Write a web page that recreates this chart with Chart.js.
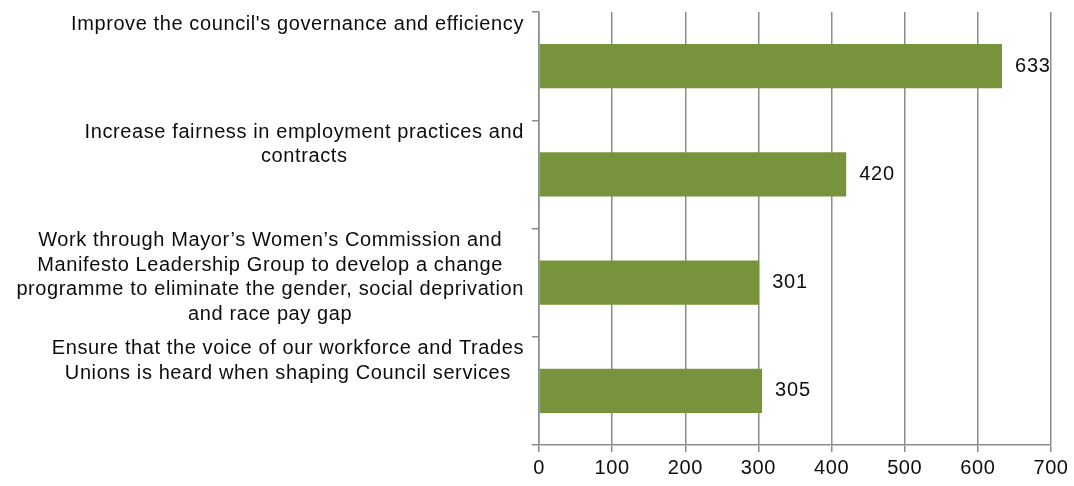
<!DOCTYPE html>
<html>
<head>
<meta charset="utf-8">
<script src="https://cdn.jsdelivr.net/npm/chart.js@4/dist/chart.umd.min.js"></script>
<style>
  html, body { margin: 0; padding: 0; background: #fff; }
  #mycanvas { display: block; }
</style>
</head>
<body>
<canvas id="mycanvas" width="1074" height="486"></canvas>
<script>
var categories = [
  ["Improve the council's governance and efficiency"],
  ["Increase fairness in employment practices and", "contracts"],
  ["Work through Mayor\u2019s Women\u2019s Commission and", "Manifesto Leadership Group to develop a change", "programme to eliminate the gender, social deprivation", "and race pay gap"],
  ["Ensure that the voice of our workforce and Trades", "Unions is heard when shaping Council services"]
];
var responses = [633, 420, 301, 305];
var xTicks = [0, 100, 200, 300, 400, 500, 600, 700];

var FONT = "'Liberation Sans', Arial, sans-serif";
var gridGrey = '#8c8c8c';

// slightly wider text spacing for everything drawn on the canvas
var spacing = {
  id: 'spacing',
  beforeDraw: function(chart) {
    chart.ctx.letterSpacing = '0.6px';
  }
};

// category text sits at the top of each band, right aligned to the axis
var categoryText = {
  id: 'categoryText',
  afterDraw: function(chart) {
    var ctx = chart.ctx;
    var y = chart.scales.y;
    var band = (y.getPixelForValue(1) - y.getPixelForValue(0));
    ctx.save();
    ctx.letterSpacing = '0.6px';
    ctx.font = '20px ' + FONT;
    ctx.fillStyle = '#0d0d0d';
    ctx.textAlign = 'center';
    ctx.textBaseline = 'middle';
    categories.forEach(function(lines, i) {
      var top = y.getPixelForValue(i) - band / 2;
      var w = 0;
      lines.forEach(function(l) { w = Math.max(w, ctx.measureText(l).width); });
      var cx = chart.chartArea.left - 15 - w / 2;
      lines.forEach(function(l, k) {
        ctx.fillText(l, cx, top + 12 + k * 24.7);
      });
    });
    ctx.restore();
  }
};

// value printed just past the end of each bar
var valueText = {
  id: 'valueText',
  afterDatasetsDraw: function(chart) {
    var ctx = chart.ctx;
    var meta = chart.getDatasetMeta(0);
    ctx.save();
    ctx.letterSpacing = '0.8px';
    ctx.font = '20px ' + FONT;
    ctx.fillStyle = '#0d0d0d';
    ctx.textAlign = 'left';
    ctx.textBaseline = 'middle';
    meta.data.forEach(function(bar, i) {
      ctx.fillText(String(responses[i]), bar.x + 13, bar.y);
    });
    ctx.restore();
  }
};

var ctx = document.getElementById('mycanvas');

var barGraph = new Chart(ctx, {
  type: 'bar',
  data: {
    labels: categories.map(function(c) { return c.join(' '); }),
    datasets: [{
      data: responses,
      backgroundColor: '#77933C',
      borderWidth: 0,
      categoryPercentage: 1,
      barPercentage: 0.41
    }]
  },
  options: {
    indexAxis: 'y',
    responsive: false,
    animation: false,
    layout: { padding: { left: 532, right: 23, top: 12, bottom: 2 } },
    plugins: {
      legend: { display: false },
      tooltip: { enabled: false }
    },
    scales: {
      x: {
        min: 0,
        max: 700,
        afterBuildTicks: function(scale) {
          scale.ticks = xTicks.map(function(v) { return { value: v }; });
        },
        grid: { color: gridGrey, lineWidth: 1.5, tickLength: 7 },
        border: { color: gridGrey, width: 1.5 },
        ticks: {
          color: '#0d0d0d',
          font: { family: FONT, size: 20 },
          padding: 4,
          maxRotation: 0
        }
      },
      y: {
        offset: true,
        grid: { offset: true, drawOnChartArea: false, color: gridGrey, lineWidth: 1.5, tickLength: 7 },
        border: { color: gridGrey, width: 1.5 },
        ticks: { display: false }
      }
    }
  },
  plugins: [spacing, categoryText, valueText]
});
</script>
</body>
</html>
